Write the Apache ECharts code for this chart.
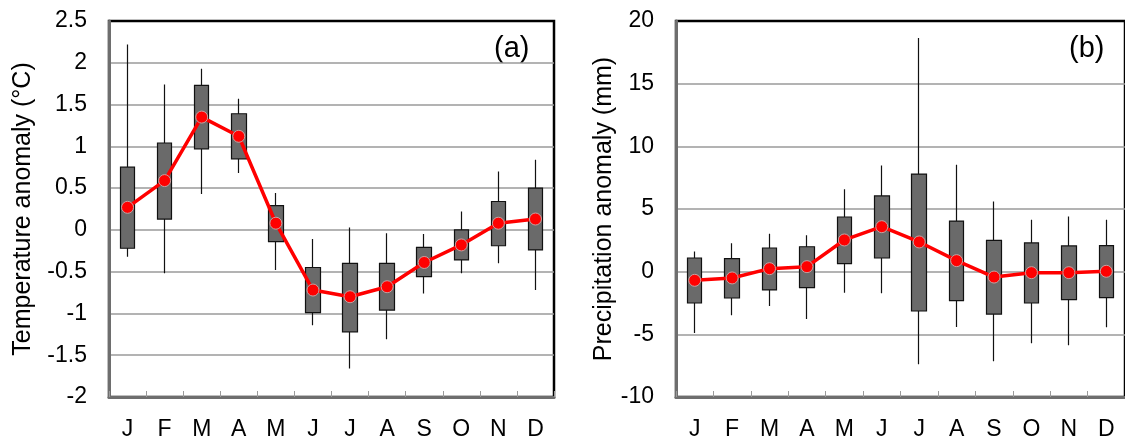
<!DOCTYPE html>
<html>
<head>
<meta charset="utf-8">
<script src="https://cdn.jsdelivr.net/npm/echarts@6/dist/echarts.min.js"></script>
<style>
html,body{margin:0;padding:0;background:#fff;}
#chart{width:1125px;height:446px;}
</style>
</head>
<body>
<div id="chart"></div>
<script>
// Months (categories)
var months = ['J','F','M','A','M','J','J','A','S','O','N','D'];

// Panel (a): Temperature anomaly (°C)
var tempWhiskerMax = [2.22, 1.74, 1.93, 1.57, 0.44, -0.11, 0.03, -0.04, -0.05, 0.22, 0.70, 0.84];
var tempBoxTop     = [0.75, 1.04, 1.73, 1.39, 0.29, -0.45, -0.40, -0.40, -0.21, 0.00, 0.34, 0.50];
var tempBoxBottom  = [-0.22, 0.13, 0.97, 0.85, -0.14, -0.99, -1.22, -0.96, -0.56, -0.36, -0.19, -0.24];
var tempWhiskerMin = [-0.32, -0.52, 0.43, 0.68, -0.48, -1.14, -1.66, -1.31, -0.76, -0.52, -0.40, -0.72];
var tempMean       = [0.27, 0.59, 1.35, 1.12, 0.08, -0.72, -0.80, -0.68, -0.39, -0.18, 0.08, 0.13];

// Panel (b): Precipitation anomaly (mm)
var precWhiskerMax = [1.6, 2.26, 3.03, 2.9, 6.57, 8.48, 18.64, 8.54, 5.59, 4.15, 4.41, 4.15];
var precBoxTop     = [1.09, 1.04, 1.89, 1.99, 4.36, 6.04, 7.79, 4.04, 2.50, 2.29, 2.05, 2.07];
var precBoxBottom  = [-2.5, -2.1, -1.46, -1.28, 0.64, 1.09, -3.14, -2.31, -3.38, -2.5, -2.23, -2.07];
var precWhiskerMin = [-4.89, -3.48, -2.74, -3.78, -1.68, -1.73, -7.39, -4.41, -7.15, -5.72, -5.88, -4.44];
var precMean       = [-0.69, -0.5, 0.24, 0.4, 2.53, 3.59, 2.37, 0.88, -0.43, -0.08, -0.08, 0.03];

// Axis settings
var tempAxis = {min: -2, max: 2.5, interval: 0.5};
var precAxis = {min: -10, max: 20, interval: 5};
var panelLabels = ['(a)', '(b)'];
var axisTitles = ['Temperature anomaly (°C)', 'Precipitation anomaly (mm)'];

function candle(bottom, top, lo, hi) {
  return bottom.map(function (b, i) { return [b, top[i], lo[i], hi[i]]; });
}

var FONT = '"Liberation Sans", Arial, sans-serif';

function xAxisCfg(gi) {
  return {
    type: 'category', gridIndex: gi, data: months, boundaryGap: true,
    axisLine: {show: true, onZero: false, lineStyle: {color: '#6e6e6e', width: 3}},
    axisTick: {show: true, inside: true, length: 6, lineStyle: {color: '#9a9a9a', width: 1}},
    axisLabel: {color: '#000', fontSize: 23, fontFamily: FONT, margin: 21},
    splitLine: {show: false}
  };
}
function yAxisCfg(gi, ax, name, gap) {
  return {
    type: 'value', gridIndex: gi, min: ax.min, max: ax.max, interval: ax.interval,
    name: name, nameLocation: 'middle', nameGap: gap,
    nameTextStyle: {color: '#000', fontSize: 25, fontFamily: FONT},
    axisLine: {show: true, onZero: false, lineStyle: {color: '#6e6e6e', width: 3}},
    axisTick: {show: false},
    axisLabel: {color: '#000', fontSize: 23, fontFamily: FONT, margin: 22},
    splitLine: {show: true, showMinLine: false, showMaxLine: false, lineStyle: {color: '#9a9a9a', width: 1.5}}
  };
}
function candleSeries(idx, data) {
  return {
    type: 'candlestick', xAxisIndex: idx, yAxisIndex: idx, data: data,
    barWidth: 15, z: 2,
    itemStyle: {color: '#6a6a6a', color0: '#6a6a6a', borderColor: '#111', borderColor0: '#111', borderWidth: 1.2},
    emphasis: {disabled: true}
  };
}
function meanSeries(idx, data) {
  return {
    type: 'line', xAxisIndex: idx, yAxisIndex: idx, data: data, z: 5,
    symbol: 'circle', symbolSize: 12,
    lineStyle: {color: '#ff0000', width: 3.5},
    itemStyle: {color: '#ff0000', borderColor: '#c9a0a0', borderWidth: 1},
    emphasis: {disabled: true}
  };
}

var chart = echarts.init(document.getElementById('chart'), null, {renderer: 'canvas'});
chart.setOption({
  animation: false,
  backgroundColor: '#fff',
  grid: [
    {left: 109, top: 21, width: 445, height: 376, show: true, borderColor: '#000', borderWidth: 2.5, backgroundColor: 'transparent'},
    {left: 676, top: 21, width: 451, height: 376, show: true, borderColor: '#000', borderWidth: 2.5, backgroundColor: 'transparent'}
  ],
  xAxis: [xAxisCfg(0), xAxisCfg(1)],
  yAxis: [yAxisCfg(0, tempAxis, axisTitles[0], 73), yAxisCfg(1, precAxis, axisTitles[1], 53)],
  graphic: [
    {type: 'text', left: 494, top: 34, style: {text: panelLabels[0], fontSize: 29, fontFamily: FONT, fill: '#000'}},
    {type: 'text', left: 1069, top: 34, style: {text: panelLabels[1], fontSize: 29, fontFamily: FONT, fill: '#000'}}
  ],
  series: [
    candleSeries(0, candle(tempBoxBottom, tempBoxTop, tempWhiskerMin, tempWhiskerMax)),
    meanSeries(0, tempMean),
    candleSeries(1, candle(precBoxBottom, precBoxTop, precWhiskerMin, precWhiskerMax)),
    meanSeries(1, precMean)
  ]
});
</script>
</body>
</html>
